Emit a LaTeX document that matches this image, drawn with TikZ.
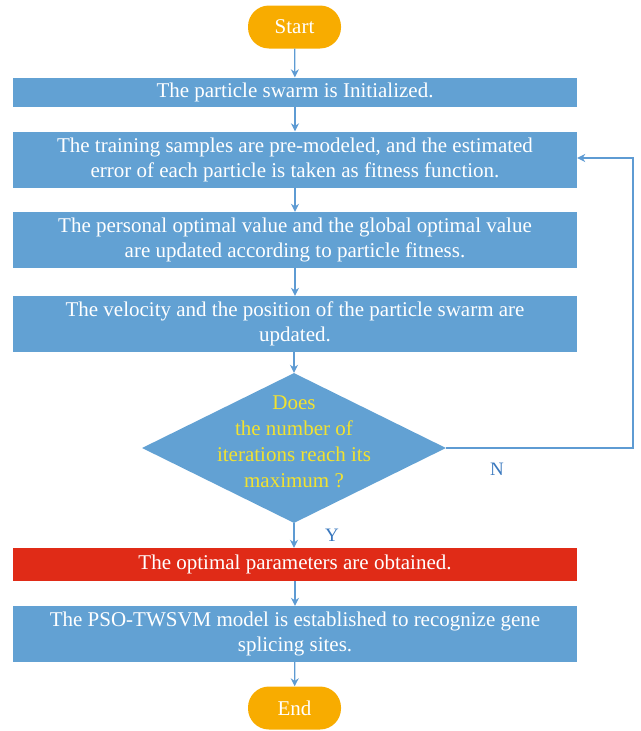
\documentclass[tikz,border=0pt]{standalone}
\usepackage{fontspec}
\setmainfont{Liberation Serif}
\usetikzlibrary{shapes.geometric,arrows.meta}
\definecolor{boxblue}{HTML}{62A1D3}
\definecolor{linblue}{HTML}{5E9BD3}
\definecolor{startorange}{HTML}{F8AC00}
\definecolor{boxred}{HTML}{E02B17}
\definecolor{qyellow}{HTML}{F2E230}
\definecolor{lblblue}{HTML}{3A78BE}
\tikzset{
  procbox/.style={draw=none,fill=boxblue,minimum width=564pt,text=white,font=\fontsize{21}{25}\selectfont,align=center,inner sep=0pt},
  terminal/.style={draw=none,fill=startorange,rounded corners=21pt,minimum width=93pt,minimum height=43pt,text=white,font=\fontsize{21}{24}\selectfont,inner sep=0pt},
  conn/.style={draw=linblue,line width=1.2pt,-{Stealth[length=8pt,width=8pt]}},
  lbl/.style={text=lblblue,font=\fontsize{19}{21}\selectfont}
}
\begin{document}
\begin{tikzpicture}[x=1pt,y=-1pt]
\useasboundingbox (0,0) rectangle (640,731);
\node[terminal] (start) at (294.5,27) {Start};
\node[procbox,minimum height=29pt] (b1) at (295,92) {The particle swarm is Initialized.};
\node[procbox,minimum height=56pt] (b2) at (295,159.5) {The training samples are pre-modeled, and the estimated\\error of each particle is taken as fitness function.};
\node[procbox,minimum height=56pt] (b3) at (295,240) {The personal optimal value and the global optimal value\\are updated according to particle fitness.};
\node[procbox,minimum height=56pt] (b4) at (295,324) {The velocity and the position of the particle swarm are\\updated.};
\node[diamond,fill=boxblue,minimum width=304pt,minimum height=150pt,inner sep=0pt,aspect=2.03] (d) at (294,448) {};
\node[text=qyellow,font=\fontsize{21}{26}\selectfont,align=center] (dt) at (294,442) {Does\\the number of\\iterations reach its\\maximum ?};
\node[procbox,fill=boxred,minimum height=33pt] (b5) at (295,564.5) {The optimal parameters are obtained.};
\node[procbox,minimum height=56pt] (b6) at (295,634) {The PSO-TWSVM model is established to recognize gene\\splicing sites.};
\node[terminal] (end) at (294.5,708) {End};
\coordinate (c1) at (633,448);
\coordinate (c2) at (633,158);
\draw[conn] (start) -- (b1);
\draw[conn] (b1) -- (b2);
\draw[conn] (b2) -- (b3);
\draw[conn] (b3) -- (b4);
\draw[conn] (b4.south -| d.north) -- (d.north);
\draw[conn] (d.south) -- (b5.north -| d.south);
\draw[conn] (b5) -- (b6);
\draw[conn] (b6) -- (end);
\draw[conn] (d.east) -- (c1) -- (c2) -- (b2.east |- c2);
\node[lbl] (nl) at (497,469) {N};
\node[lbl] (yl) at (332,535) {Y};
\end{tikzpicture}
\end{document}
